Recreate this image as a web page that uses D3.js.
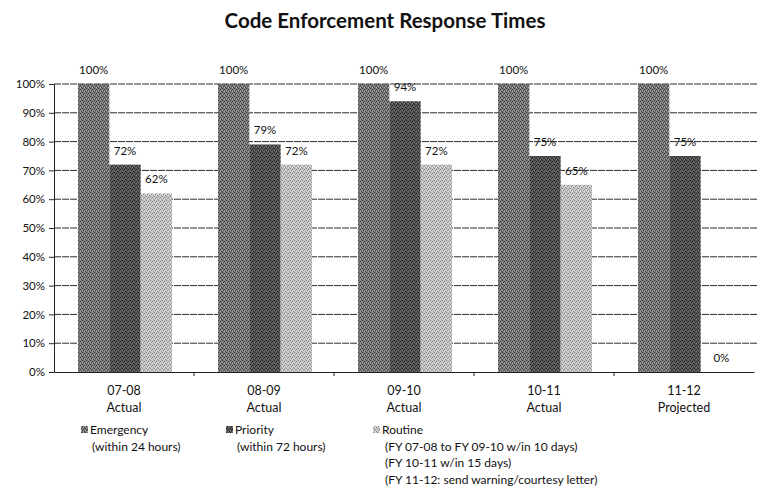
<!DOCTYPE html>
<html>
<head>
<meta charset="utf-8">
<script src="https://cdn.jsdelivr.net/npm/d3@7"></script>
<style>
  html, body { margin: 0; padding: 0; background: #fff; }
  text { font-family: Lato, "Open Sans", sans-serif; fill: #111; }
</style>
</head>
<body>
<svg id="chart" width="757" height="486"></svg>
<script>
// Fiscal years shown along the x axis
const years = ["07-08", "08-09", "09-10", "10-11", "11-12"];
const yearNotes = ["Actual", "Actual", "Actual", "Actual", "Projected"];

// Share of calls answered within target, per response category
const seriesNames = ["Emergency", "Priority", "Routine"];
const emergency = [100, 100, 100, 100, 100];
const priority = [72, 79, 94, 75, 75];
const routine = [62, 72, 72, 65, 0];

const yTicks = [0, 10, 20, 30, 40, 50, 60, 70, 80, 90, 100];

const legendLines = [
  ["Emergency", "(within 24 hours)"],
  ["Priority", "(within 72 hours)"],
  ["Routine", "(FY 07-08 to FY 09-10 w/in 10 days)", "(FY 10-11 w/in 15 days)", "(FY 11-12: send warning/courtesy letter)"]
];

const values = [emergency, priority, routine];

const svg = d3.select("#chart");
const margin = { left: 54, right: 3, top: 84, bottom: 114 };
const W = 757, H = 486;

const x = d3.scaleBand().domain(years).range([margin.left, W - margin.right]).padding(0);
const xs = d3.scaleBand().domain(seriesNames).range([24, 118]).padding(0);
const y = d3.scaleLinear().domain([0, 100]).range([H - margin.bottom, margin.top]);

// Halftone-like fills
const defs = svg.append("defs");
function halftone(id, base, dot, light) {
  const p = defs.append("pattern").attr("id", id).attr("patternUnits", "userSpaceOnUse")
    .attr("width", 4).attr("height", 4);
  p.append("rect").attr("width", 4).attr("height", 4).attr("fill", base);
  [[0, 0], [2, 1], [1, 2], [3, 3]].forEach(([a, b]) =>
    p.append("rect").attr("x", a).attr("y", b).attr("width", 1).attr("height", 1).attr("fill", dot));
  [[2, 3], [0, 2]].forEach(([a, b]) =>
    p.append("rect").attr("x", a).attr("y", b).attr("width", 1).attr("height", 1).attr("fill", light));
  return "url(#" + id + ")";
}
const fills = [
  halftone("pEm", "#7c7c7c", "#3c3c3c", "#a8a8a8"),
  halftone("pPr", "#585858", "#222222", "#7a7a7a"),
  halftone("pRo", "#c6c6c6", "#8c8c8c", "#e6e6e6")
];

// Title
svg.append("text").attr("x", 385).attr("y", 28).attr("text-anchor", "middle")
  .style("font-size", "20.5px").style("font-weight", "bold").text("Code Enforcement Response Times");

// Gridlines
svg.append("g").selectAll("line").data(yTicks.filter(d => d > 0)).join("line")
  .attr("x1", margin.left).attr("x2", W).attr("y1", d => y(d)).attr("y2", d => y(d))
  .attr("stroke", "#2a2a2a").attr("stroke-width", 1).attr("stroke-dasharray", "7,1");

// Y axis
const yAxis = d3.axisLeft(y).tickValues(yTicks).tickFormat(d => d + "%").tickSize(5).tickPadding(4);
const gy = svg.append("g").attr("transform", `translate(${margin.left},0)`).call(yAxis);
gy.select(".domain").attr("stroke", "#222");
gy.selectAll(".tick line").attr("stroke", "#222");
gy.selectAll("text").style("font-size", "11.5px").style("font-family", "Lato, sans-serif").attr("fill", "#111");

// Bars with value labels
const groups = svg.append("g").selectAll("g").data(years).join("g")
  .attr("transform", d => `translate(${x(d)},0)`);
seriesNames.forEach((s, si) => {
  groups.append("rect")
    .attr("x", xs(s)).attr("width", xs.bandwidth())
    .attr("y", (d, i) => y(values[si][i]))
    .attr("height", (d, i) => y(0) - y(values[si][i]))
    .attr("fill", fills[si]);
  groups.append("text")
    .attr("x", xs(s) + xs.bandwidth() / 2)
    .attr("y", (d, i) => y(values[si][i]) - 10)
    .attr("text-anchor", "middle")
    .style("font-size", "11.5px")
    .attr("dx", (d, i) => values[si][i] === 0 ? 5 : 0)
    .text((d, i) => values[si][i] + "%");
});

// X axis
const xAxis = d3.axisBottom(x).tickValues([]).tickSizeOuter(0);
const gx = svg.append("g").attr("transform", `translate(0,${y(0)})`).call(xAxis);
gx.select(".domain").attr("stroke", "#222");
svg.append("g").selectAll("line").data(years.slice(1)).join("line")
  .attr("x1", d => x(d)).attr("x2", d => x(d))
  .attr("y1", y(0)).attr("y2", y(0) + 4).attr("stroke", "#222");

// Category labels
const cat = svg.append("g").selectAll("text").data(years).join("text")
  .attr("text-anchor", "middle")
  .style("font-size", "12.5px");
cat.append("tspan").attr("x", d => x(d) + x.bandwidth() / 2).attr("y", 395).text(d => d);
cat.append("tspan").attr("x", d => x(d) + x.bandwidth() / 2).attr("y", 412).text((d, i) => yearNotes[i]);

// Legend
const legendX = [81, 226, 373];
legendLines.forEach((lines, i) => {
  const g = svg.append("g").attr("transform", `translate(${legendX[i]},0)`);
  g.append("rect").attr("x", 0).attr("y", 426).attr("width", 7).attr("height", 7).attr("fill", fills[i]);
  lines.forEach((t, j) => {
    g.append("text").attr("x", j === 0 ? 9 : (i === 2 ? 12 : 11)).attr("y", 434 + j * 16.7)
      .style("font-size", "12px").text(t);
  });
});
</script>
</body>
</html>
